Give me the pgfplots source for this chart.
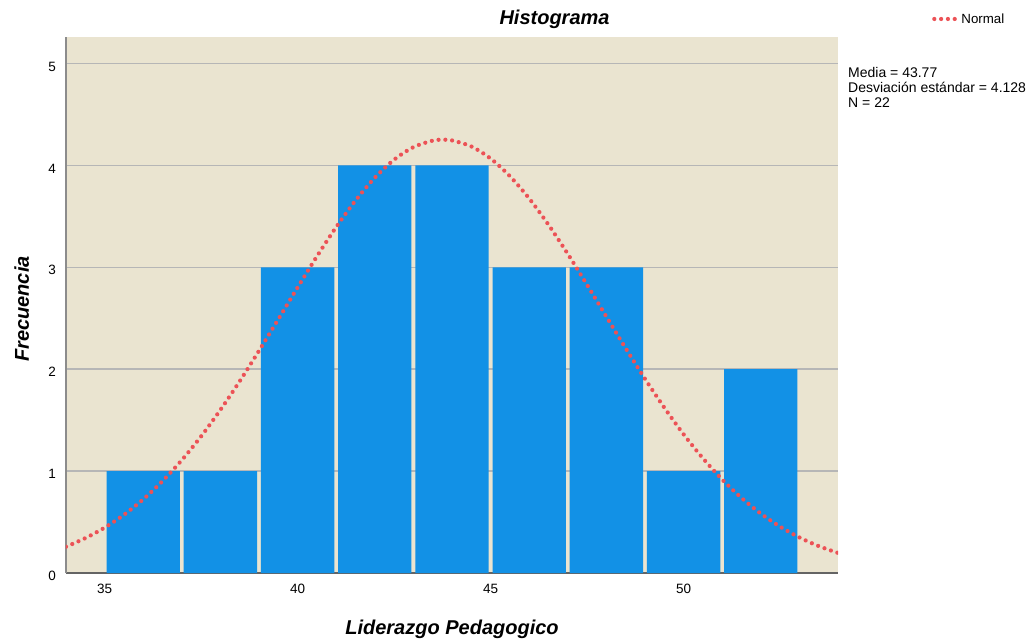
\documentclass[border=0pt]{standalone}
\usepackage{fontspec}
\setmainfont{Liberation Sans}
\usepackage{pgfplots}
\pgfplotsset{compat=1.18}
\definecolor{bgc}{RGB}{234,228,208}
\definecolor{barc}{RGB}{18,145,230}
\definecolor{curvec}{RGB}{236,82,86}
\definecolor{gridc}{RGB}{182,182,182}
\definecolor{yaxc}{RGB}{140,140,140}
\definecolor{xaxc}{RGB}{100,100,100}
\begin{document}
\begin{tikzpicture}[x=1pt,y=1pt]
\path[use as bounding box] (0,0) rectangle (1036,-644);
\begin{axis}[
  at={(66pt,-573pt)}, anchor=south west,
  scale only axis, width=772pt, height=536pt,
  xmin=34, xmax=54, ymin=0, ymax=5.26,
  axis background/.style={fill=bgc},
  axis lines*=left,
  x axis line style={xaxc, line width=2pt},
  y axis line style={yaxc, line width=1.5pt},
  xtick={35,40,45,50}, ytick={0,1,2,3,4,5},
  major tick length=0pt,
  ymajorgrids, grid style={gridc, line width=1.5pt},
  /pgf/number format/assume math mode=true,
  tick label style={font=\fontsize{13.5}{16}\selectfont, inner sep=0pt},
  xticklabel style={yshift=-11pt},
  yticklabel style={xshift=-10pt, yshift=-3pt},
  title={Histograma},
  title style={font=\fontsize{20}{24}\selectfont\bfseries\itshape, at={(axis description cs:0.6328,1.0125)}, anchor=base},
  xlabel={Liderazgo Pedagogico},
  xlabel style={font=\fontsize{20}{24}\selectfont\bfseries\itshape, at={(axis description cs:0.5,-0.1138)}, anchor=base},
  ylabel={Frecuencia},
  ylabel style={font=\fontsize{20}{24}\selectfont\bfseries\itshape, at={(axis description cs:-0.048,0.4925)}, anchor=base},
  legend style={at={(axis description cs:1.1218,1.0336)}, anchor=west, draw=none, fill=none, inner sep=0pt, font=\fontsize{13.3}{16}\selectfont},
  legend cell align=left,
  legend image code/.code={\draw[#1] (0pt,0pt) -- (23pt,0pt);},
]
\addplot[ybar, bar width=1.9, fill=barc, draw=none, forget plot] coordinates {
  (36,1) (38,1) (40,3) (42,4) (44,4) (46,3) (48,3) (50,1) (52,2)
};
\addplot[smooth, curvec, line width=4.2pt, line cap=round, dash pattern=on 0pt off 6.8pt] coordinates {
  (34,0.258) (34.5,0.342) (35,0.445) (35.5,0.571) (36,0.723) (36.5,0.902)
  (37,1.108) (37.5,1.341) (38,1.601) (38.5,1.882) (39,2.181) (39.5,2.490)
  (40,2.802) (40.5,3.107) (41,3.395) (41.5,3.655) (42,3.879) (42.5,4.056)
  (43,4.179) (43.5,4.243) (43.77,4.252) (44,4.245) (44.5,4.186) (45,4.067)
  (45.5,3.894) (46,3.675) (46.5,3.417) (47,3.131) (47.5,2.827) (48,2.515)
  (48.5,2.205) (49,1.905) (49.5,1.623) (50,1.361) (50.5,1.126) (51,0.917)
  (51.5,0.737) (52,0.583) (52.5,0.455) (53,0.349) (53.5,0.264) (54,0.197)
};
\addlegendentry{Normal}
\end{axis}
\node[anchor=base west, inner sep=0pt, font=\fontsize{14}{15}\selectfont] at (848,-77.5) {Media = 43.77};
\node[anchor=base west, inner sep=0pt, font=\fontsize{14}{15}\selectfont] at (848,-92.5) {Desviación estándar = 4.128};
\node[anchor=base west, inner sep=0pt, font=\fontsize{14}{15}\selectfont] at (848,-107.5) {N = 22};
\end{tikzpicture}
\end{document}
